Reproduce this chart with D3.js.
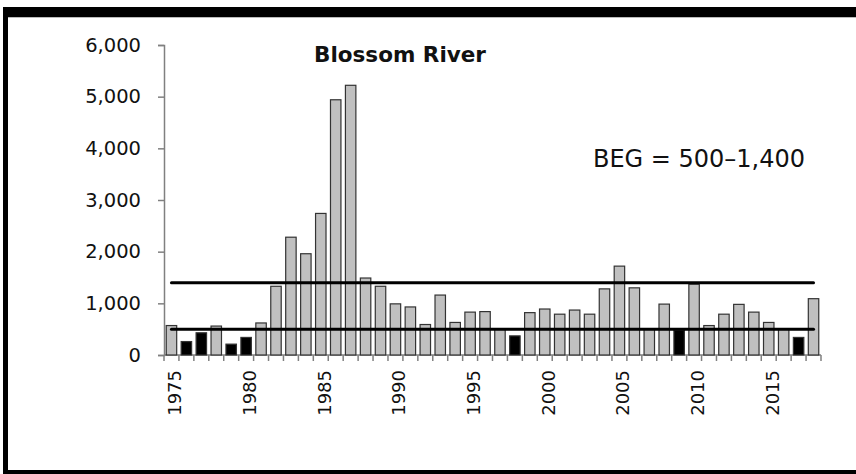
<!DOCTYPE html>
<html>
<head>
<meta charset="utf-8">
<script src="https://cdn.jsdelivr.net/npm/d3@7"></script>
<style>
  body { margin: 0; background: #fff; }
  text { font-family: "DejaVu Sans", sans-serif; fill: #111; }
</style>
</head>
<body>
<div id="chart"></div>
<script>
// Blossom River escapement by year, with the BEG band (500-1,400)

const years = d3.range(1975, 2019);
const counts = [
  570, 260, 430, 560, 210, 340, 620, 1330, 2280, 1960,
  2740, 4940, 5220, 1490, 1330, 990, 930, 590, 1160, 630,
  830, 840, 510, 370, 820, 890, 790, 870, 790, 1280,
  1720, 1300, 505, 985, 480, 1370, 570, 790, 980, 830,
  630, 505, 340, 1090
];
const begLow = 500;
const begHigh = 1400;
const yTicks = [0, 1000, 2000, 3000, 4000, 5000, 6000];
const xLabelYears = [1975, 1980, 1985, 1990, 1995, 2000, 2005, 2010, 2015];

(function() {
    const W = 856, H = 474;

    const svg = d3.select("#chart")
        .append("svg")
        .attr("width", W)
        .attr("height", H);

    // frame (top, left, bottom edges are visible)
    svg.append("rect").attr("x", 3).attr("y", 7).attr("width", W - 3).attr("height", 10).attr("fill", "#000");
    svg.append("rect").attr("x", 3).attr("y", 7).attr("width", 5).attr("height", H - 7).attr("fill", "#000");
    svg.append("rect").attr("x", 3).attr("y", 470).attr("width", W - 3).attr("height", 4).attr("fill", "#000");
    svg.append("line").attr("x1", 8).attr("x2", W).attr("y1", 17.5).attr("y2", 17.5)
        .attr("stroke", "#bbb").attr("stroke-width", 1);

    const x = d3.scaleBand()
        .domain(years)
        .range([164, 821])
        .paddingInner(0.3)
        .paddingOuter(0.15);

    const y = d3.scaleLinear()
        .domain([0, 6000])
        .range([355, 45]);

    const axisColor = "#808080";

    // Y axis
    const yAxis = svg.append("g")
        .attr("transform", "translate(164,0)")
        .call(d3.axisLeft(y).tickValues(yTicks).tickFormat(d3.format(",")).tickSize(6).tickPadding(17));
    yAxis.select(".domain").attr("stroke", axisColor).attr("stroke-width", 1.5);
    yAxis.selectAll(".tick line").attr("stroke", axisColor).attr("stroke-width", 1.5);
    yAxis.selectAll(".tick text")
        .attr("font-size", 19.5)
        .attr("font-family", "DejaVu Sans, sans-serif")
        .attr("fill", "#111");

    // X axis: line, ticks between categories, labels every 5 years
    const gap = (x.step() - x.bandwidth()) / 2;
    const bounds = years.map(d => x(d) - gap).concat([x(years[years.length - 1]) + x.bandwidth() + gap]);

    svg.append("line")
        .attr("x1", x.range()[0]).attr("x2", x.range()[1])
        .attr("y1", y(0)).attr("y2", y(0))
        .attr("stroke", axisColor).attr("stroke-width", 1.5);

    svg.selectAll(".xtick")
        .data(bounds)
        .enter()
        .append("line")
        .attr("class", "xtick")
        .attr("x1", d => d).attr("x2", d => d)
        .attr("y1", y(0)).attr("y2", y(0) + 6)
        .attr("stroke", axisColor).attr("stroke-width", 1.5);

    svg.selectAll(".xlabel")
        .data(xLabelYears)
        .enter()
        .append("text")
        .attr("class", "xlabel")
        .attr("transform", d => `translate(${x(d) + x.bandwidth() / 2 + 10},370) rotate(-90)`)
        .attr("text-anchor", "end")
        .attr("font-size", 18)
        .text(d => d);

    // bars (black when below the lower goal)
    svg.selectAll(".bar")
        .data(years)
        .enter()
        .append("rect")
        .attr("class", "bar")
        .attr("x", d => x(d))
        .attr("width", x.bandwidth())
        .attr("y", (d, i) => y(counts[i]))
        .attr("height", (d, i) => y(0) - y(counts[i]))
        .attr("fill", (d, i) => counts[i] < begLow ? "#000" : "#c0c0c0")
        .attr("stroke", "#333")
        .attr("stroke-width", 1.2);

    // BEG lines
    const xFirst = x(years[0]) + x.bandwidth() / 2;
    const xLast = x(years[years.length - 1]) + x.bandwidth() / 2;
    [begLow, begHigh].forEach(v => {
        svg.append("line")
            .attr("x1", xFirst).attr("x2", xLast)
            .attr("y1", y(v)).attr("y2", y(v))
            .attr("stroke", "#000")
            .attr("stroke-width", 3)
            .attr("stroke-linecap", "round");
    });

    // title and goal annotation
    svg.append("text")
        .attr("x", 400).attr("y", 62)
        .attr("text-anchor", "middle")
        .attr("font-size", 21.5)
        .attr("font-weight", "bold")
        .text("Blossom River");

    svg.append("text")
        .attr("x", 699).attr("y", 167)
        .attr("text-anchor", "middle")
        .attr("font-size", 24)
        .text("BEG = 500\u20131,400");
})();
</script>
</body>
</html>
